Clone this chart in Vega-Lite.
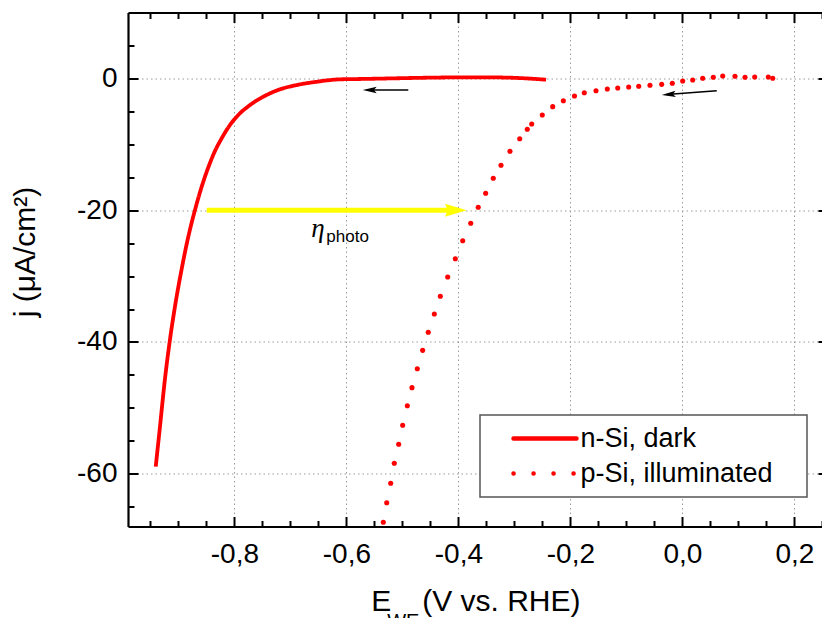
{
  "$schema": "https://vega.github.io/schema/vega-lite/v6.json",
  "width": 700,
  "height": 514,
  "autosize": "none",
  "padding": {"left": 128, "top": 12.5, "right": 0, "bottom": 91.5},
  "background": "white",
  "data": {"values": [
    {"series": "n-Si, dark", "E": -0.9405, "j": -58.92},
    {"series": "n-Si, dark", "E": -0.9329, "j": -52.85},
    {"series": "n-Si, dark", "E": -0.9240, "j": -45.6},
    {"series": "n-Si, dark", "E": -0.9150, "j": -39.6},
    {"series": "n-Si, dark", "E": -0.9055, "j": -34.3},
    {"series": "n-Si, dark", "E": -0.8941, "j": -28.9},
    {"series": "n-Si, dark", "E": -0.8823, "j": -24.02},
    {"series": "n-Si, dark", "E": -0.8704, "j": -19.97},
    {"series": "n-Si, dark", "E": -0.8584, "j": -16.43},
    {"series": "n-Si, dark", "E": -0.8466, "j": -13.50},
    {"series": "n-Si, dark", "E": -0.8346, "j": -11.0},
    {"series": "n-Si, dark", "E": -0.8227, "j": -9.09},
    {"series": "n-Si, dark", "E": -0.8079, "j": -7.07},
    {"series": "n-Si, dark", "E": -0.7930, "j": -5.55},
    {"series": "n-Si, dark", "E": -0.7721, "j": -4.04},
    {"series": "n-Si, dark", "E": -0.7484, "j": -2.78},
    {"series": "n-Si, dark", "E": -0.7186, "j": -1.66},
    {"series": "n-Si, dark", "E": -0.6888, "j": -1.01},
    {"series": "n-Si, dark", "E": -0.6530, "j": -0.51},
    {"series": "n-Si, dark", "E": -0.6114, "j": -0.14},
    {"series": "n-Si, dark", "E": -0.5757, "j": -0.09},
    {"series": "n-Si, dark", "E": -0.52, "j": 0.0},
    {"series": "n-Si, dark", "E": -0.46, "j": 0.1},
    {"series": "n-Si, dark", "E": -0.40, "j": 0.15},
    {"series": "n-Si, dark", "E": -0.34, "j": 0.15},
    {"series": "n-Si, dark", "E": -0.29, "j": 0.05},
    {"series": "n-Si, dark", "E": -0.2434, "j": -0.2},
    {"series": "p-Si, illuminated", "E": -0.5341, "j": -67.36},
    {"series": "p-Si, illuminated", "E": -0.5280, "j": -64.39},
    {"series": "p-Si, illuminated", "E": -0.5209, "j": -61.44},
    {"series": "p-Si, illuminated", "E": -0.5145, "j": -58.41},
    {"series": "p-Si, illuminated", "E": -0.5066, "j": -55.52},
    {"series": "p-Si, illuminated", "E": -0.4995, "j": -52.64},
    {"series": "p-Si, illuminated", "E": -0.4912, "j": -49.67},
    {"series": "p-Si, illuminated", "E": -0.4829, "j": -46.93},
    {"series": "p-Si, illuminated", "E": -0.4734, "j": -44.05},
    {"series": "p-Si, illuminated", "E": -0.4638, "j": -41.27},
    {"series": "p-Si, illuminated", "E": -0.4538, "j": -38.53},
    {"series": "p-Si, illuminated", "E": -0.4430, "j": -35.75},
    {"series": "p-Si, illuminated", "E": -0.4323, "j": -33.07},
    {"series": "p-Si, illuminated", "E": -0.4191, "j": -30.14},
    {"series": "p-Si, illuminated", "E": -0.4055, "j": -27.36},
    {"series": "p-Si, illuminated", "E": -0.3923, "j": -24.63},
    {"series": "p-Si, illuminated", "E": -0.3780, "j": -21.99},
    {"series": "p-Si, illuminated", "E": -0.3646, "j": -19.56},
    {"series": "p-Si, illuminated", "E": -0.3513, "j": -17.44},
    {"series": "p-Si, illuminated", "E": -0.3377, "j": -15.16},
    {"series": "p-Si, illuminated", "E": -0.3239, "j": -13.19},
    {"series": "p-Si, illuminated", "E": -0.3079, "j": -11.06},
    {"series": "p-Si, illuminated", "E": -0.2905, "j": -9.15},
    {"series": "p-Si, illuminated", "E": -0.2770, "j": -7.72},
    {"series": "p-Si, illuminated", "E": -0.2691, "j": -6.92},
    {"series": "p-Si, illuminated", "E": -0.2502, "j": -5.55},
    {"series": "p-Si, illuminated", "E": -0.2316, "j": -4.29},
    {"series": "p-Si, illuminated", "E": -0.2126, "j": -3.40},
    {"series": "p-Si, illuminated", "E": -0.1927, "j": -2.67},
    {"series": "p-Si, illuminated", "E": -0.1752, "j": -2.17},
    {"series": "p-Si, illuminated", "E": -0.1543, "j": -1.87},
    {"series": "p-Si, illuminated", "E": -0.1341, "j": -1.61},
    {"series": "p-Si, illuminated", "E": -0.1155, "j": -1.46},
    {"series": "p-Si, illuminated", "E": -0.0959, "j": -1.31},
    {"series": "p-Si, illuminated", "E": -0.0780, "j": -1.20},
    {"series": "p-Si, illuminated", "E": -0.0579, "j": -1.05},
    {"series": "p-Si, illuminated", "E": -0.0370, "j": -0.90},
    {"series": "p-Si, illuminated", "E": -0.0180, "j": -0.74},
    {"series": "p-Si, illuminated", "E": 0.0005, "j": -0.39},
    {"series": "p-Si, illuminated", "E": 0.0184, "j": -0.24},
    {"series": "p-Si, illuminated", "E": 0.0363, "j": 0.02},
    {"series": "p-Si, illuminated", "E": 0.0552, "j": 0.17},
    {"series": "p-Si, illuminated", "E": 0.0720, "j": 0.36},
    {"series": "p-Si, illuminated", "E": 0.0939, "j": 0.32},
    {"series": "p-Si, illuminated", "E": 0.1118, "j": 0.17},
    {"series": "p-Si, illuminated", "E": 0.1291, "j": 0.21},
    {"series": "p-Si, illuminated", "E": 0.1534, "j": 0.21},
    {"series": "p-Si, illuminated", "E": 0.1613, "j": 0.02}
  ]},
  "layer": [
    {
      "layer": [
        {
          "transform": [{"filter": "datum.series === 'n-Si, dark'"}],
          "mark": {"type": "line", "strokeWidth": 3.8, "strokeJoin": "round", "interpolate": "monotone"},
          "encoding": {
            "x": {
              "field": "E", "type": "quantitative",
              "scale": {"domain": [-0.99, 0.26], "nice": false, "zero": false},
              "axis": {
                "orient": "bottom",
                "values": [-0.95, -0.9, -0.85, -0.8, -0.75, -0.7, -0.65, -0.6, -0.55, -0.5, -0.45, -0.4, -0.35, -0.3, -0.25, -0.2, -0.15, -0.1, -0.05, 0, 0.05, 0.1, 0.15, 0.2, 0.25],
                "tickCount": 200,
                "labelExpr": "abs(datum.value*5 - round(datum.value*5)) < 0.001 ? replace(replace(format(datum.value, '.1f'), '\u2212', '-'), '.', ',') : ''",
                "tickSize": {"condition": {"test": "abs(datum.value*5 - round(datum.value*5)) < 0.001", "value": -10}, "value": -6},
                "gridOpacity": {"condition": {"test": "abs(datum.value*5 - round(datum.value*5)) < 0.001", "value": 1}, "value": 0},
                "grid": true,
                "labelPadding": 24,
                "title": "E",
                "titleX": 242.7,
                "titleY": 83.5,
                "titleAlign": "left",
                "titleBaseline": "alphabetic",
                "titleFontSize": 30
              }
            },
            "y": {
              "field": "j", "type": "quantitative",
              "scale": {"domain": [-68, 10], "nice": false, "zero": false},
              "axis": {
                "orient": "left",
                "values": [-65, -60, -55, -50, -45, -40, -35, -30, -25, -20, -15, -10, -5, 0, 5],
                "tickCount": 200,
                "labelExpr": "datum.value % 20 === 0 ? toString(datum.value) : ''",
                "tickSize": {"condition": {"test": "datum.value % 20 === 0", "value": -10}, "value": -6},
                "gridOpacity": {"condition": {"test": "datum.value % 20 === 0", "value": 1}, "value": 0},
                "grid": true,
                "labelPadding": 21,
                "title": "j (\u03bcA/cm\u00b2)",
                "titleAngle": -90,
                "titleX": -94,
                "titleY": 239,
                "titleAlign": "center",
                "titleBaseline": "alphabetic",
                "titleFontSize": 30
              }
            },
            "color": {
              "field": "series", "type": "nominal",
              "scale": {"domain": ["n-Si, dark", "p-Si, illuminated"], "range": ["#ff0000", "#ff0000"]},
              "legend": {"title": null, "encode": {"symbols": {"update": {"strokeCap": {"value": "round"}}}, "entries": {"update": {"width": {"value": 307}, "noBound": {"value": false}}}}}
            },
            "strokeDash": {
              "field": "series", "type": "nominal",
              "scale": {"domain": ["n-Si, dark", "p-Si, illuminated"], "range": [[1, 0], [0.1, 19.9]]},
              "legend": {"title": null, "encode": {"symbols": {"update": {"strokeCap": {"value": "round"}}}, "entries": {"update": {"width": {"value": 307}, "noBound": {"value": false}}}}}
            }
          }
        },
        {
          "transform": [{"filter": "datum.series === 'p-Si, illuminated'"}],
          "mark": {"type": "point", "filled": true, "size": 26, "color": "#ff0000", "opacity": 1, "strokeWidth": 0},
          "encoding": {
            "x": {"field": "E", "type": "quantitative", "scale": {"domain": [-0.99, 0.26], "nice": false, "zero": false}},
            "y": {"field": "j", "type": "quantitative", "scale": {"domain": [-68, 10], "nice": false, "zero": false}}
          }
        },
        {
          "data": {"values": [{}]},
          "mark": {"type": "rule", "color": "#ffff00", "strokeWidth": 5},
          "encoding": {
            "x": {"datum": -0.8495, "type": "quantitative"},
            "x2": {"datum": -0.402},
            "y": {"datum": -20, "type": "quantitative"},
            "y2": {"datum": -20}
          }
        },
        {
          "data": {"values": [{}]},
          "mark": {"type": "point", "shape": "M1,0L-1,-0.6L-0.75,0L-1,0.6Z", "filled": true, "size": 471, "color": "#ffff00", "opacity": 1, "strokeWidth": 0},
          "encoding": {
            "x": {"datum": -0.4046, "type": "quantitative"},
            "y": {"datum": -20, "type": "quantitative"}
          }
        },
        {
          "data": {"values": [{}]},
          "mark": {"type": "rule", "color": "black", "strokeWidth": 1.4},
          "encoding": {
            "x": {"datum": -0.4895, "type": "quantitative"},
            "x2": {"datum": -0.562},
            "y": {"datum": -1.76, "type": "quantitative"},
            "y2": {"datum": -1.76}
          }
        },
        {
          "data": {"values": [{}]},
          "mark": {"type": "point", "shape": "M-1,0L1,-0.45L0.6,0L1,0.45Z", "filled": true, "size": 196, "color": "black", "opacity": 1, "strokeWidth": 0},
          "encoding": {
            "x": {"datum": -0.5584, "type": "quantitative"},
            "y": {"datum": -1.76, "type": "quantitative"}
          }
        },
        {
          "data": {"values": [{}]},
          "mark": {"type": "rule", "color": "black", "strokeWidth": 1.4},
          "encoding": {
            "x": {"datum": 0.0613, "type": "quantitative"},
            "x2": {"datum": -0.028},
            "y": {"datum": -1.87, "type": "quantitative"},
            "y2": {"datum": -2.45}
          }
        },
        {
          "data": {"values": [{}]},
          "mark": {"type": "point", "shape": "M-1,0L1,-0.45L0.6,0L1,0.45Z", "filled": true, "size": 196, "angle": -4.5, "color": "black", "opacity": 1, "strokeWidth": 0},
          "encoding": {
            "x": {"datum": -0.0244, "type": "quantitative"},
            "y": {"datum": -2.44, "type": "quantitative"}
          }
        },
        {
          "data": {"values": [{}]},
          "mark": {"type": "text", "text": "\u03b7", "font": "Liberation Serif", "fontStyle": "italic", "fontSize": 27, "align": "left", "baseline": "alphabetic", "color": "black"},
          "encoding": {
            "x": {"datum": -0.6627, "type": "quantitative"},
            "y": {"datum": -24.0, "type": "quantitative"}
          }
        },
        {
          "data": {"values": [{}]},
          "mark": {"type": "text", "text": "photo", "font": "Liberation Sans", "fontSize": 17, "align": "left", "baseline": "alphabetic", "color": "black"},
          "encoding": {
            "x": {"datum": -0.6359, "type": "quantitative"},
            "y": {"datum": -24.78, "type": "quantitative"}
          }
        }
      ]
    },
    {
      "data": {"values": [{}]},
      "mark": {"type": "point", "opacity": 0},
      "encoding": {
        "x": {
          "datum": 0, "type": "quantitative",
          "scale": {"domain": [-0.99, 0.26], "nice": false, "zero": false},
          "axis": {
            "orient": "top",
            "values": [-0.95, -0.9, -0.85, -0.8, -0.75, -0.7, -0.65, -0.6, -0.55, -0.5, -0.45, -0.4, -0.35, -0.3, -0.25, -0.2, -0.15, -0.1, -0.05, 0, 0.05, 0.1, 0.15, 0.2, 0.25],
            "tickCount": 200,
            "labels": false,
            "grid": false,
            "tickSize": {"condition": {"test": "abs(datum.value*5 - round(datum.value*5)) < 0.001", "value": -10}, "value": -6},
            "title": "WE",
            "titleX": 258.7,
            "titleY": 614.5,
            "titleAlign": "left",
            "titleBaseline": "alphabetic",
            "titleFontSize": 20
          }
        },
        "y": {
          "datum": 0, "type": "quantitative",
          "scale": {"domain": [-68, 10], "nice": false, "zero": false},
          "axis": {
            "orient": "right",
            "values": [-65, -60, -55, -50, -45, -40, -35, -30, -25, -20, -15, -10, -5, 0, 5],
            "tickCount": 200,
            "labels": false,
            "grid": false,
            "tickSize": {"condition": {"test": "datum.value % 20 === 0", "value": -10}, "value": -6},
            "title": "(V vs. RHE)",
            "titleAngle": 0,
            "titleX": -406.3,
            "titleY": 597.5,
            "titleAlign": "left",
            "titleBaseline": "alphabetic",
            "titleFontSize": 30
          }
        }
      }
    }
  ],
  "resolve": {"axis": {"x": "independent", "y": "independent"}},
  "config": {
    "view": {"stroke": null},
    "axis": {
      "labelFont": "Liberation Sans",
      "labelFontSize": 28,
      "labelColor": "black",
      "titleFont": "Liberation Sans",
      "titleFontWeight": "normal",
      "titleColor": "black",
      "tickColor": "black",
      "tickWidth": 2,
      "domainColor": "black",
      "domainWidth": 2.2,
      "gridColor": "#9a9a9a",
      "gridDash": [1.5, 3],
      "gridWidth": 1,
      "labelOverlap": false,
      "labelFlush": false,
      "labelBound": false
    },
    "legend": {
      "orient": "none",
      "legendX": 352,
      "legendY": 402.5,
      "padding": 10,
      "fillColor": "white",
      "strokeColor": "#555555",
      "strokeWidth": 1.5,
      "symbolType": "M-3.15,0H3.15",
      "symbolSize": 400,
      "symbolStrokeWidth": 4.5,
      "symbolOffset": 41.5,
      "labelOffset": 22,
      "labelFont": "Liberation Sans",
      "labelFontSize": 27,
      "labelColor": "black",
      "labelLimit": 0,
      "rowPadding": 7
    }
  }
}
